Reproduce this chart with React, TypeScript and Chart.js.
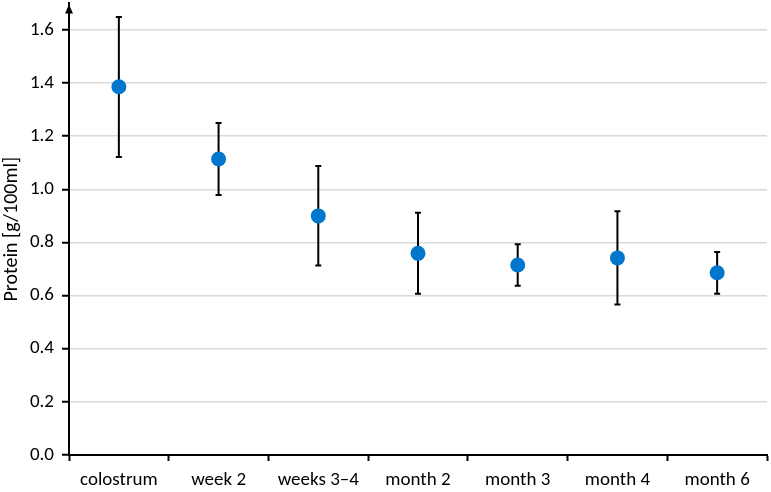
import { useEffect, useRef } from 'react';
import { Chart, registerables } from 'chart.js';

Chart.register(...registerables);

const categories = ['colostrum', 'week 2', 'weeks 3–4', 'month 2', 'month 3', 'month 4', 'month 6'];
const meanValues = [1.386, 1.114, 0.9, 0.759, 0.715, 0.742, 0.686];
const upperValues = [1.649, 1.25, 1.088, 0.912, 0.793, 0.918, 0.764];
const lowerValues = [1.122, 0.979, 0.713, 0.607, 0.637, 0.567, 0.607];
const yTickValues = [0, 0.2, 0.4, 0.6, 0.8, 1.0, 1.2, 1.4, 1.6];
const yAxisMax = 1.7;
const yTitle = 'Protein [g/100ml]';

const FONT = "Carlito, Lato, 'Open Sans', sans-serif";

const errorBarsPlugin = {
  id: 'errorBars',
  beforeDatasetsDraw(chart: any) {
    const { ctx, scales } = chart;
    const x = scales.x;
    const y = scales.y;
    ctx.save();
    ctx.strokeStyle = '#000';
    ctx.lineWidth = 2;
    categories.forEach((_, i) => {
      const px = x.getPixelForValue(i);
      const top = y.getPixelForValue(upperValues[i]);
      const bot = y.getPixelForValue(lowerValues[i]);
      ctx.beginPath();
      ctx.moveTo(px, top);
      ctx.lineTo(px, bot);
      ctx.moveTo(px - 3, top);
      ctx.lineTo(px + 3, top);
      ctx.moveTo(px - 3, bot);
      ctx.lineTo(px + 3, bot);
      ctx.stroke();
    });
    ctx.restore();
  },
};

const arrowPlugin = {
  id: 'axisArrow',
  afterDraw(chart: any) {
    const { ctx, chartArea } = chart;
    const x = chartArea.left;
    const tip = chartArea.top + 1;
    ctx.save();
    ctx.fillStyle = '#000';
    ctx.beginPath();
    ctx.moveTo(x, tip);
    ctx.lineTo(x - 4, tip + 9);
    ctx.lineTo(x + 4, tip + 9);
    ctx.closePath();
    ctx.fill();
    ctx.restore();
  },
};

export default function App() {
  const canvasRef = useRef<HTMLCanvasElement | null>(null);

  useEffect(() => {
    document.body.style.margin = '0';
    const canvas = canvasRef.current;
    if (!canvas) return;
    const chart = new Chart(canvas, {
      type: 'line',
      data: {
        labels: categories,
        datasets: [
          {
            data: meanValues,
            showLine: false,
            pointRadius: 7.5,
            pointHoverRadius: 7.5,
            pointBackgroundColor: '#0077CC',
            pointBorderColor: '#0077CC',
            pointBorderWidth: 0,
          },
        ],
      },
      options: {
        animation: false,
        responsive: true,
        maintainAspectRatio: false,
        layout: { autoPadding: false, padding: { top: 3.4, right: 4, left: 0, bottom: 0 } },
        plugins: {
          legend: { display: false },
          tooltip: { enabled: false },
        },
        scales: {
          x: {
            type: 'category',
            offset: true,
            grid: {
              offset: true,
              drawOnChartArea: false,
              drawTicks: true,
              tickLength: 6,
              tickColor: '#000',
              tickWidth: 2,
            },
            border: { color: '#000', width: 2 },
            ticks: {
              color: '#000',
              font: { size: 19, family: FONT },
              padding: 8,
              maxRotation: 0,
              autoSkip: false,
            },
            afterFit(scale: any) {
              scale.height = 37;
              scale.paddingLeft = 0;
              scale.paddingRight = 0;
            },
          },
          y: {
            min: 0,
            max: yAxisMax,
            afterBuildTicks(scale: any) {
              scale.ticks = yTickValues.map((v) => ({ value: v }));
            },
            grid: {
              color: '#d9d9d9',
              lineWidth: 1.5,
              tickColor: '#000',
              tickLength: 7,
              tickWidth: 2,
            },
            border: { color: '#000', width: 2 },
            ticks: {
              color: '#000',
              font: { size: 19, family: FONT },
              padding: 8,
              callback: (v: any) => Number(v).toFixed(1),
            },
            title: {
              display: true,
              text: yTitle,
              color: '#000',
              font: { size: 20, family: FONT },
              padding: 0,
            },
            afterFit(scale: any) {
              scale.width = 69;
              scale.paddingTop = 0;
              scale.paddingBottom = 0;
            },
          },
        },
      },
      plugins: [errorBarsPlugin, arrowPlugin],
    });
    return () => chart.destroy();
  }, []);

  return (
    <div style={{ width: 771, height: 492, position: 'relative' }}>
      <canvas ref={canvasRef} />
    </div>
  );
}
